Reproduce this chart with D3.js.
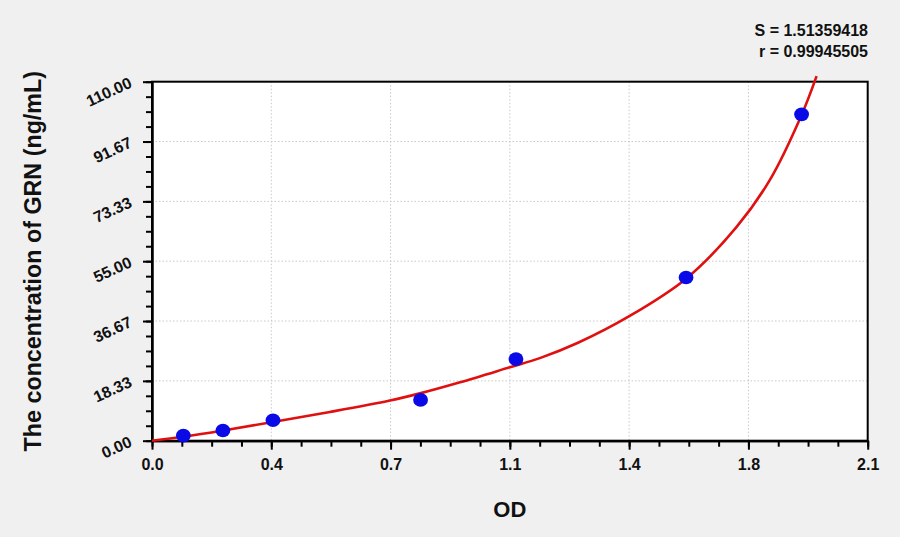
<!DOCTYPE html>
<html>
<head>
<meta charset="utf-8">
<script src="https://cdn.jsdelivr.net/npm/d3@7"></script>
<style>
  html, body { margin: 0; padding: 0; background: #f0f0f0; }
  svg { display: block; font-family: "Liberation Sans", Arial, sans-serif; font-weight: bold; }
  .grid line { stroke: #c8c8c8; stroke-width: 1; stroke-dasharray: 1.5 2; }
  .axis path, .axis line { stroke: #000; stroke-width: 2; }
  .axis text { fill: #111; font-size: 16px; font-weight: bold; }
</style>
</head>
<body>
<svg id="chart" width="900" height="537"></svg>
<script>
  // standards: OD vs concentration
  const odValues = [0.092, 0.208, 0.355, 0.788, 1.068, 1.567, 1.906];
  const concValues = [1.56, 3.12, 6.25, 12.5, 25, 50, 100];

  // fitted curve
  const curveOd = [0, 0.092, 0.209, 0.346, 0.522, 0.698, 0.786, 0.904, 1.05, 1.138, 1.25, 1.403, 1.569, 1.716, 1.813, 1.906, 1.95];
  const curveConc = [0, 1.2, 3.1, 5.6, 8.8, 12.3, 14.5, 17.9, 22.5, 25.3, 30.0, 38.3, 49.8, 65.6, 79.9, 99.8, 111.7];

  const xTicks = [0, 0.35, 0.7, 1.05, 1.4, 1.75, 2.1];
  const xTickLabels = ["0.0", "0.4", "0.7", "1.1", "1.4", "1.8", "2.1"];
  const yTicks = [0, 18.333, 36.667, 55, 73.333, 91.667, 110];
  const yTickLabels = ["0.00", "18.33", "36.67", "55.00", "73.33", "91.67", "110.00"];

  const fitText = ["S = 1.51359418", "r = 0.99945505"];

  const margin = { top: 81.7, right: 32.3, bottom: 96.3, left: 152 };
  const W = 900, H = 537;
  const w = W - margin.left - margin.right;
  const h = H - margin.top - margin.bottom;

  const svg = d3.select("#chart");
  const g = svg.append("g").attr("transform", `translate(${margin.left},${margin.top})`);

  const x = d3.scaleLinear().domain([0, 2.1]).range([0, w]);
  const y = d3.scaleLinear().domain([0, 110]).range([h, 0]);

  // plot background
  g.append("rect").attr("width", w).attr("height", h).attr("fill", "#fff");

  // grid
  const grid = g.append("g").attr("class", "grid");
  grid.selectAll(".gx").data(xTicks.slice(1, -1)).join("line")
    .attr("x1", d => x(d)).attr("x2", d => x(d)).attr("y1", 0).attr("y2", h);
  grid.selectAll(".gy").data(yTicks.slice(1, -1)).join("line")
    .attr("y1", d => y(d)).attr("y2", d => y(d)).attr("x1", 0).attr("x2", w);

  // minor ticks
  const xMinor = d3.range(0, 2.1 + 1e-9, 0.0875);
  const yMinor = d3.range(0, 110 + 1e-9, 110 / 24);

  g.append("g").attr("class", "axis")
    .attr("transform", `translate(0,${h})`)
    .call(d3.axisBottom(x).tickValues(xMinor).tickSize(6).tickFormat("").tickSizeOuter(0));
  g.append("g").attr("class", "axis")
    .call(d3.axisLeft(y).tickValues(yMinor).tickSize(6).tickFormat("").tickSizeOuter(0));

  // major ticks
  const xAxis = g.append("g").attr("class", "axis")
    .attr("transform", `translate(0,${h})`)
    .call(d3.axisBottom(x).tickValues(xTicks).tickSize(9).tickSizeOuter(0)
      .tickFormat((d, i) => xTickLabels[i]));
  xAxis.selectAll("text").attr("dy", "0.95em").attr("y", 14);

  const yAxis = g.append("g").attr("class", "axis")
    .call(d3.axisLeft(y).tickValues(yTicks).tickSize(9).tickSizeOuter(0)
      .tickFormat((d, i) => yTickLabels[i]));
  yAxis.selectAll("text")
    .attr("x", null).attr("dy", null)
    .attr("text-anchor", "end")
    .style("font-size", "16px")
    .attr("transform", "translate(-19,4.5) rotate(-25)");

  // frame
  g.append("rect").attr("width", w).attr("height", h)
    .attr("fill", "none").attr("stroke", "#000").attr("stroke-width", 2);

  // fitted curve
  const line = d3.line()
    .x(d => x(d[0])).y(d => y(d[1]))
    .curve(d3.curveCatmullRom.alpha(0.5));
  g.append("path")
    .datum(d3.zip(curveOd, curveConc))
    .attr("d", line)
    .attr("fill", "none")
    .attr("stroke", "#e01010")
    .attr("stroke-width", 2.6);

  // points
  g.selectAll(".pt").data(d3.zip(odValues, concValues)).join("ellipse")
    .attr("cx", d => x(d[0])).attr("cy", d => y(d[1]))
    .attr("rx", 7.4).attr("ry", 6.8)
    .attr("fill", "#0a0ae6");

  // axis titles
  svg.append("text")
    .attr("x", margin.left + w / 2).attr("y", 517)
    .attr("text-anchor", "middle")
    .attr("font-size", 22).attr("fill", "#111")
    .text("OD");

  svg.append("text")
    .attr("transform", `translate(40.5,${margin.top + h / 2}) rotate(-90)`)
    .attr("text-anchor", "middle")
    .attr("font-size", 23.3).attr("fill", "#111")
    .text("The concentration of GRN (ng/mL)");

  // fit statistics
  svg.selectAll(".fit").data(fitText).join("text")
    .attr("x", 868).attr("y", (d, i) => 36 + i * 21)
    .attr("text-anchor", "end")
    .attr("font-size", 16).attr("fill", "#111")
    .text(d => d);
</script>
</body>
</html>
